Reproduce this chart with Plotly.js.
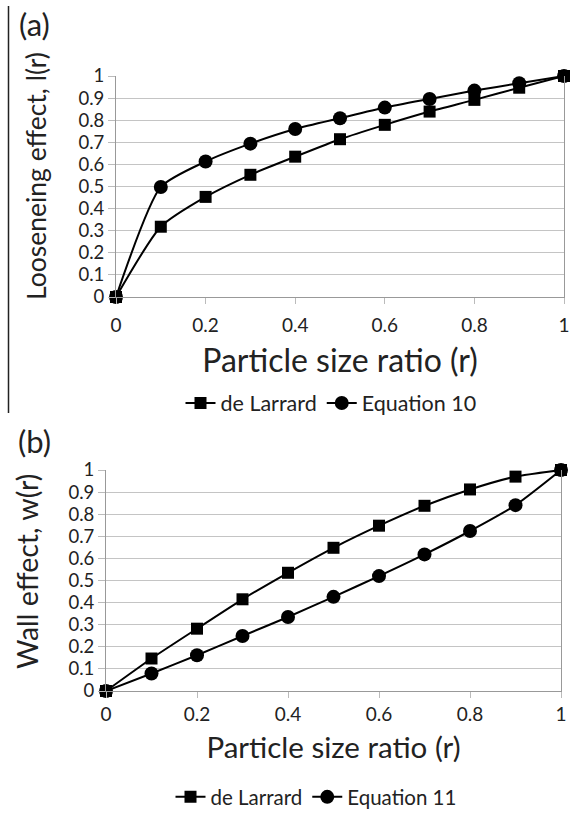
<!DOCTYPE html>
<html>
<head>
<meta charset="utf-8">
<script src="https://cdn.plot.ly/plotly-3.0.1.min.js"></script>
<style>html,body{margin:0;padding:0;background:#fff}#chart{width:570px;height:822px}</style>
</head>
<body>
<div id="chart"></div>
<script>
// Particle size ratio
const r = [0, 0.1, 0.2, 0.3, 0.4, 0.5, 0.6, 0.7, 0.8, 0.9, 1];
// (a) Loosening effect
const loosenDeLarrard = [0, 0.318, 0.453, 0.553, 0.635, 0.714, 0.779, 0.839, 0.892, 0.947, 1];
const loosenEq10      = [0, 0.498, 0.613, 0.694, 0.760, 0.809, 0.857, 0.896, 0.934, 0.967, 1];
// (b) Wall effect
const wallDeLarrard = [0, 0.147, 0.282, 0.415, 0.535, 0.648, 0.748, 0.838, 0.912, 0.970, 1];
const wallEq11      = [0, 0.079, 0.162, 0.249, 0.335, 0.426, 0.520, 0.618, 0.724, 0.841, 1];

const xTicks = [0, 0.2, 0.4, 0.6, 0.8, 1];
const xTickText = ['0', '0.2', '0.4', '0.6', '0.8', '1'];
const yTicks = [0, 0.1, 0.2, 0.3, 0.4, 0.5, 0.6, 0.7, 0.8, 0.9, 1];
const yTickText = ['0', '0.1', '0.2', '0.3', '0.4', '0.5', '0.6', '0.7', '0.8', '0.9', '1'];

const xTitle = 'Particle size ratio (r)';
const yTitleA = 'Looseneing effect, l(r)';
const yTitleB = 'Wall effect, w(r)';

const FONT = 'Lato, "Open Sans", sans-serif';
const W = 570, H = 822;
const px = v => v / W;
const py = v => 1 - v / H;

function series(x, y, name, symbol, size, xa, ya, legend) {
  return {
    x: x, y: y, name: name, type: 'scatter', mode: 'lines+markers',
    xaxis: xa, yaxis: ya, legend: legend,
    line: {color: '#000', width: 2, shape: 'spline', smoothing: 0.6},
    marker: {symbol: symbol, size: size, color: '#000'},
    cliponaxis: false
  };
}

const data = [
  series(r, loosenDeLarrard, 'de Larrard', 'square', 12, 'x', 'y', 'legend'),
  series(r, loosenEq10, 'Equation 10', 'circle', 14, 'x', 'y', 'legend'),
  series(r, wallDeLarrard, 'de Larrard', 'square', 12, 'x2', 'y2', 'legend2'),
  series(r, wallEq11, 'Equation 11', 'circle', 14, 'x2', 'y2', 'legend2')
];

function xax(domain, anchor, size, lblOff, standoff) {
  return {
    domain: domain, anchor: anchor, range: [0, 1],
    tickvals: xTicks, ticktext: xTickText,
    ticks: 'outside', ticklen: 6, tickcolor: '#bbb', tickwidth: 1,
    ticklabelstandoff: lblOff,
    showline: true, linecolor: '#999', linewidth: 1,
    showgrid: false, zeroline: false,
    tickfont: {family: FONT, size: 19, color: '#222'},
    title: {text: xTitle, font: {family: FONT, size: size, color: '#222'}, standoff: standoff},
    fixedrange: true
  };
}
function yax(domain, anchor) {
  return {
    domain: domain, anchor: anchor, range: [0, 1],
    tickvals: yTicks, ticktext: yTickText,
    ticks: 'outside', ticklen: 7, tickcolor: '#bbb', tickwidth: 1,
    showline: true, linecolor: '#999', linewidth: 1, mirror: true,
    showgrid: true, gridcolor: '#c4c4c4', gridwidth: 1,
    zeroline: false,
    tickfont: {family: FONT, size: 18.5, color: '#222'},
    fixedrange: true
  };
}

const layout = {
  width: W, height: H,
  margin: {l: 0, r: 0, t: 0, b: 0},
  paper_bgcolor: '#fff', plot_bgcolor: '#fff',
  font: {family: FONT, color: '#222'},
  xaxis: xax([px(116), px(564)], 'y', 32, 5, 14),
  yaxis: yax([py(297), py(76)], 'x'),
  xaxis2: xax([px(106), px(561)], 'y2', 29.5, 0, 13),
  yaxis2: yax([py(691), py(470)], 'x2'),
  legend: {orientation: 'h', x: px(331), xanchor: 'center', y: py(403), yanchor: 'middle',
    font: {family: FONT, size: 21.5, color: '#222'}, itemwidth: 30, bgcolor: 'rgba(0,0,0,0)'},
  legend2: {orientation: 'h', x: px(316), xanchor: 'center', y: py(797), yanchor: 'middle',
    font: {family: FONT, size: 20.5, color: '#222'}, itemwidth: 30, bgcolor: 'rgba(0,0,0,0)'},
  annotations: [
    {text: '(a)', xref: 'paper', yref: 'paper', x: px(34), y: py(24), xanchor: 'center', yanchor: 'middle',
     showarrow: false, font: {family: FONT, size: 31, color: '#222'}},
    {text: '(b)', xref: 'paper', yref: 'paper', x: px(34), y: py(441), xanchor: 'center', yanchor: 'middle',
     showarrow: false, font: {family: FONT, size: 31, color: '#222'}},
    {text: yTitleA, xref: 'paper', yref: 'paper', x: px(36), y: py(176), xanchor: 'center', yanchor: 'middle',
     textangle: -90, showarrow: false, font: {family: FONT, size: 26.5, color: '#222'}},
    {text: yTitleB, xref: 'paper', yref: 'paper', x: px(27), y: py(572), xanchor: 'center', yanchor: 'middle',
     textangle: -90, showarrow: false, font: {family: FONT, size: 28.5, color: '#222'}}
  ],
  shapes: [
    {type: 'line', xref: 'paper', yref: 'paper', x0: px(8.5), x1: px(8.5), y0: py(6), y1: py(413),
     line: {color: '#222', width: 1.5}}
  ],
  showlegend: true,
  hovermode: false
};

Plotly.newPlot('chart', data, layout, {displayModeBar: false, staticPlot: true});
</script>
</body>
</html>
